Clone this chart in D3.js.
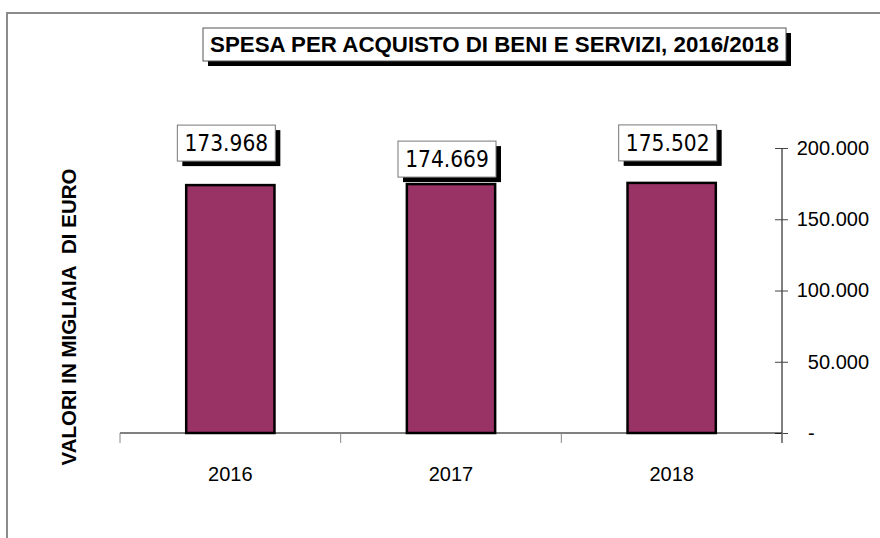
<!DOCTYPE html>
<html>
<head>
<meta charset="utf-8">
<script src="https://cdn.jsdelivr.net/npm/d3@7"></script>
<style>
  body { margin: 0; background: #fff; }
</style>
</head>
<body>
<div id="chart"></div>
<script>
// dati
const years = ["2016", "2017", "2018"];
const spesa = [173968, 174669, 175502];
const yTicks = [0, 50000, 100000, 150000, 200000];
const title = "SPESA PER ACQUISTO DI BENI E SERVIZI, 2016/2018";
const yTitle = "VALORI IN MIGLIAIA\u00a0 DI EURO";

// distanza etichetta-barra (come nell'originale, non uniforme)
const labelGap = [24, 7, 22];

const width = 880, height = 538;

const svg = d3.select("#chart")
    .append("svg")
    .attr("width", width)
    .attr("height", height);

// cornice esterna
svg.append("path")
    .attr("d", "M7,538 V13 H880")
    .attr("fill", "none")
    .attr("stroke", "#8c8c8c")
    .attr("stroke-width", 2);

// scale
const x = d3.scaleBand()
    .domain(years)
    .range([120, 782])
    .paddingInner(0.6)
    .paddingOuter(0.3);

const y = d3.scaleLinear()
    .domain([0, 200000])
    .range([433, 148]);

// asse y a destra
const yAxis = svg.append("g")
    .attr("transform", "translate(782,0)")
    .call(d3.axisRight(y)
        .tickValues(yTicks)
        .tickSize(0)
        .tickFormat(d => d === 0 ? "-" : d3.format(",")(d).replace(/,/g, ".")));
yAxis.select(".domain")
    .attr("d", "M0," + y(200000) + "V443")
    .attr("stroke", "#000");
yAxis.selectAll(".tick line")
    .attr("x1", -7).attr("x2", 6)
    .attr("stroke", "#444");
yAxis.selectAll(".tick text")
    .attr("x", d => d === 0 ? 26 : 87)
    .attr("text-anchor", d => d === 0 ? "start" : "end")
    .style("font-family", "'Liberation Sans', Arial, sans-serif")
    .style("font-size", "20px")
    .attr("fill", "#000");

// asse x
svg.append("line")
    .attr("x1", 120).attr("x2", 782)
    .attr("y1", y(0)).attr("y2", y(0))
    .attr("stroke", "#000");
const xTickPos = years.map(d => x(d) - x.step() * x.paddingInner() / 2).concat([782]);
svg.selectAll(".xtick")
    .data(xTickPos)
    .join("line")
    .attr("class", "xtick")
    .attr("x1", d => d).attr("x2", d => d)
    .attr("y1", y(0)).attr("y2", y(0) + 10)
    .attr("stroke", "#888");
svg.selectAll(".xlab")
    .data(years)
    .join("text")
    .attr("class", "xlab")
    .attr("x", d => x(d) + x.bandwidth() / 2)
    .attr("y", 481)
    .attr("text-anchor", "middle")
    .style("font-family", "'Liberation Sans', Arial, sans-serif")
    .style("font-size", "20px")
    .text(d => d);

// barre
svg.selectAll(".bar")
    .data(spesa)
    .join("rect")
    .attr("class", "bar")
    .attr("x", (d, i) => x(years[i]))
    .attr("y", d => y(d))
    .attr("width", x.bandwidth())
    .attr("height", d => y(0) - y(d))
    .attr("fill", "#993366")
    .attr("stroke", "#000")
    .attr("stroke-width", 2.5);

// etichette valori con ombra
const fmt = d => d3.format(",")(d).replace(/,/g, ".");
const lab = svg.selectAll(".lab")
    .data(spesa)
    .join("g")
    .attr("class", "lab")
    .attr("transform", (d, i) => "translate(" + (x(years[i]) + x.bandwidth() / 2 - 53) + "," + (y(d) - labelGap[i] - 36) + ")");
lab.append("rect")
    .attr("x", 5).attr("y", 5)
    .attr("width", 98).attr("height", 36)
    .attr("fill", "#000");
lab.append("rect")
    .attr("x", 0).attr("y", 0)
    .attr("width", 98).attr("height", 36)
    .attr("fill", "#fff")
    .attr("stroke", "#777")
    .attr("stroke-width", 1);
lab.append("text")
    .attr("x", 49).attr("y", 26)
    .attr("text-anchor", "middle")
    .style("font-family", "'DejaVu Sans Condensed', 'DejaVu Sans', sans-serif")
    .style("font-stretch", "condensed")
    .style("font-size", "22.5px")
    .text(d => fmt(d));

// titolo
svg.append("rect")
    .attr("x", 208).attr("y", 33)
    .attr("width", 583).attr("height", 33)
    .attr("fill", "#000");
svg.append("rect")
    .attr("x", 203).attr("y", 28)
    .attr("width", 583).attr("height", 33)
    .attr("fill", "#fff")
    .attr("stroke", "#555")
    .attr("stroke-width", 1);
svg.append("text")
    .attr("x", 494.5).attr("y", 52)
    .attr("text-anchor", "middle")
    .style("font-family", "'Liberation Sans', Arial, sans-serif")
    .style("font-weight", "bold")
    .style("font-size", "22.3px")
    .text(title);

// titolo asse y
svg.append("text")
    .attr("transform", "translate(76,317) rotate(-90)")
    .attr("text-anchor", "middle")
    .style("font-family", "'Liberation Sans', Arial, sans-serif")
    .style("font-weight", "bold")
    .style("font-size", "20.5px")
    .text(yTitle);
</script>
</body>
</html>
